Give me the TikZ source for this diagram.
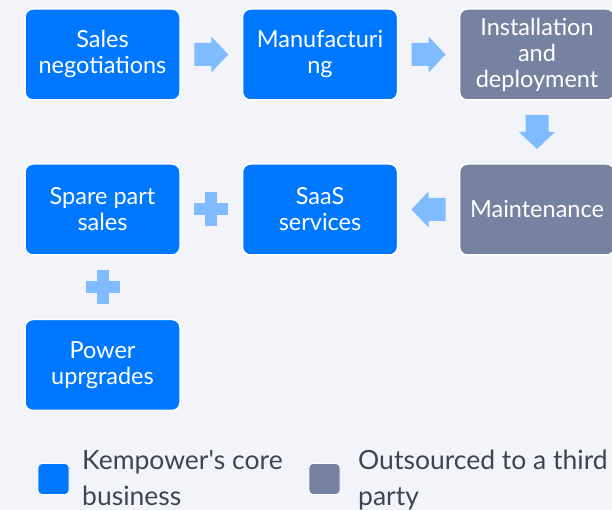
\documentclass[tikz,border=0pt]{standalone}
\usepackage{fontspec}
\setmainfont{Lato}
\usetikzlibrary{calc}
\definecolor{bg}{HTML}{F3F4F9}
\definecolor{core}{HTML}{0077FF}
\definecolor{outs}{HTML}{7782A0}
\definecolor{arr}{HTML}{80BBFF}
\definecolor{legtxt}{HTML}{3C4650}
\tikzset{
  box/.style={draw=white, line width=1.5pt, rounded corners=8pt, minimum width=155pt, minimum height=91pt,
    inner sep=0pt, text=white, align=center, font=\fontsize{23.5}{26}\selectfont},
  corebox/.style={box, fill=core},
  outbox/.style={box, fill=outs},
  legsq/.style={rounded corners=4pt, minimum width=31pt, minimum height=31pt, inner sep=0pt, draw=white, line width=0.8pt},
  legtext/.style={anchor=base west, align=left, text=legtxt, inner sep=0pt, font=\fontsize{26.5}{36}\selectfont},
  blockarrow/.pic={\fill[arr] (-17,-11.5) -- (0,-11.5) -- (0,-18) -- (17,0) -- (0,18) -- (0,11.5) -- (-17,11.5) -- cycle;},
}
\begin{document}
\begin{tikzpicture}[x=1pt,y=1pt]
\fill[bg] (0,0) rectangle (612,510);
\useasboundingbox (0,0) rectangle (612,510);
% boxes
\node[corebox] (A) at (102.5,455.5) {Sales\\negotiations};
\node[corebox] (B) at (320,455.5) {Manufacturi\\ng};
\node[outbox]  (C) at (537,455.5) {Installation\\and\\deployment};
\node[outbox]  (D) at (537,300.5) {Maintenance};
\node[corebox] (E) at (320,300.5) {SaaS\\services};
\node[corebox] (F) at (102.5,300.5) {Spare part\\sales};
\node[corebox] (G) at (102.5,145) {Power\\uprgrades};
% arrows
\pic at ($(A.east)!0.5!(B.west)$) {blockarrow};
\pic at ($(B.east)!0.5!(C.west)$) {blockarrow};
\pic[rotate=-90] at ($(C.south)!0.5!(D.north)$) {blockarrow};
\pic[rotate=180] at ($(E.east)!0.5!(D.west)$) {blockarrow};
% plus signs
\coordinate (p1) at ($(F.east)!0.5!(E.west)$);
\coordinate (p2) at ($(F.south)!0.5!(G.north)$);
\foreach \p in {p1,p2}{
  \fill[arr] ($(\p)+(-17,-6)$) rectangle ($(\p)+(17,6)$);
  \fill[arr] ($(\p)+(-6,-17)$) rectangle ($(\p)+(6,17)$);
}
% legend
\node[legsq, fill=core] (L1) at (53.5,31) {};
\node[legtext] (T1) at (82,4) {Kempower\textquotesingle s core\\business};
\node[legsq, fill=outs] (L2) at (324.5,31) {};
\node[legtext] (T2) at (358,4) {Outsourced to a third\\party};
\end{tikzpicture}
\end{document}
